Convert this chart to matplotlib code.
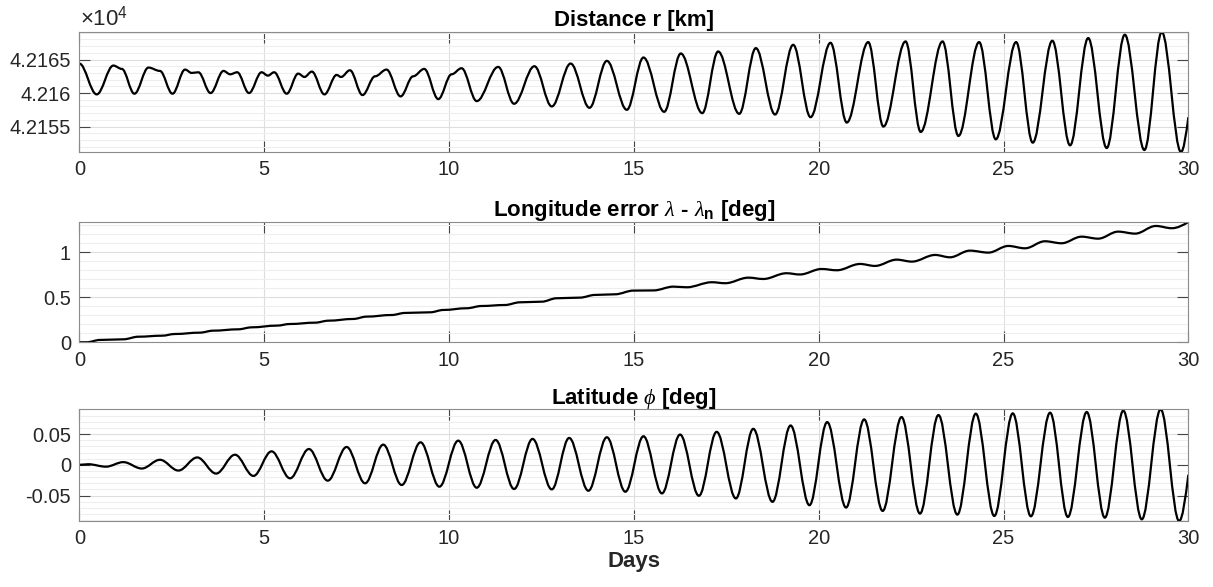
import numpy as np
import matplotlib
matplotlib.use("Agg")
from matplotlib import pyplot as plt
from matplotlib.path import Path
from matplotlib.patches import PathPatch
from matplotlib.ticker import MultipleLocator

plt.rcParams['font.family'] = ['Liberation Sans', 'DejaVu Sans']
plt.rcParams['mathtext.fontset'] = 'custom'
plt.rcParams['mathtext.rm'] = 'Liberation Sans'
plt.rcParams['mathtext.it'] = 'Liberation Serif:italic'
plt.rcParams['mathtext.bf'] = 'Liberation Sans:bold'

# distance r [km], turning points
r_days = [0, 0.47, 0.92, 1.15, 1.49, 1.87, 2.18, 2.52, 2.86, 3.04, 3.22, 3.55,
          3.90, 4.08, 4.27, 4.59, 4.93, 5.10, 5.27, 5.61, 5.92, 6.09, 6.29, 6.63,
          6.96, 7.08, 7.32, 7.66, 8.00, 8.31, 8.69, 9.03, 9.33, 9.71, 10.07, 10.34,
          10.75, 11.33, 11.76, 12.31, 12.78, 13.29, 13.80, 14.27, 14.81, 15.26,
          15.82, 16.27, 16.85, 17.28, 17.85, 18.30, 18.82, 19.31, 19.78, 20.32,
          20.76, 21.34, 21.75, 22.35, 22.76, 23.35, 23.78, 24.34, 24.79, 25.34,
          25.79, 26.32, 26.80, 27.29, 27.79, 28.28, 28.81, 29.28, 29.80, 30.0]
r_km = [42164.4, 42159.8, 42164.1, 42163.6, 42159.9, 42163.8, 42163.3, 42159.9,
        42163.5, 42163.0, 42163.1, 42160.0, 42163.3, 42162.8, 42163.1, 42160.0,
        42163.1, 42162.6, 42163.1, 42159.9, 42162.9, 42162.4, 42163.2, 42159.8,
        42162.7, 42162.4, 42163.4, 42159.7, 42162.5, 42163.5, 42159.5, 42162.5,
        42163.6, 42159.1, 42162.8, 42163.7, 42158.8, 42163.9, 42158.4, 42164.0,
        42158.0, 42164.4, 42157.8, 42164.8, 42157.5, 42165.3, 42157.2, 42165.9,
        42157.0, 42166.2, 42156.9, 42166.7, 42156.8, 42167.2, 42156.4, 42167.5,
        42155.6, 42167.6, 42155.0, 42167.7, 42154.2, 42167.7, 42153.6, 42167.6,
        42153.1, 42167.6, 42152.6, 42167.8, 42152.2, 42168.2, 42151.8, 42168.7,
        42151.5, 42169.1, 42151.2, 42156.4]

# longitude error [deg]
lon_days = [0, 0.20, 0.56, 1.19, 1.60, 2.23, 2.59, 3.26, 3.62, 4.30, 4.66, 5.34,
            5.70, 6.38, 6.74, 7.41, 7.77, 8.45, 8.81, 9.49, 9.85, 10.48, 10.88,
            11.51, 11.92, 12.51, 12.91, 13.54, 13.95, 14.49, 14.99, 15.53, 16.07,
            16.43, 17.11, 17.47, 18.10, 18.50, 19.13, 19.49, 20.08, 20.49, 21.12,
            21.52, 22.11, 22.52, 23.15, 23.55, 24.09, 24.59, 25.13, 25.58, 26.12,
            26.57, 27.11, 27.56, 28.10, 28.56, 29.12, 29.55, 30.0]
lon_err = [0, 0, 0.026, 0.033, 0.062, 0.073, 0.092, 0.107, 0.129, 0.144, 0.166,
           0.185, 0.203, 0.218, 0.240, 0.259, 0.285, 0.303, 0.326, 0.333, 0.359,
           0.378, 0.403, 0.414, 0.444, 0.451, 0.489, 0.496, 0.526, 0.533, 0.574,
           0.576, 0.618, 0.611, 0.667, 0.656, 0.718, 0.703, 0.767, 0.753, 0.814,
           0.800, 0.870, 0.848, 0.918, 0.896, 0.970, 0.944, 1.018, 0.996, 1.070,
           1.044, 1.122, 1.100, 1.173, 1.151, 1.229, 1.207, 1.292, 1.267, 1.336]

# latitude [deg]
lat_days = [0, 0.24, 0.72, 1.19, 1.69, 2.18, 2.68, 3.19, 3.70, 4.21, 4.71, 5.20,
            5.70, 6.21, 6.72, 7.23, 7.73, 8.22, 8.72, 9.23, 9.74, 10.25, 10.75,
            11.26, 11.76, 12.26, 12.78, 13.25, 13.77, 14.27, 14.77, 15.26, 15.76,
            16.25, 16.76, 17.24, 17.76, 18.23, 18.75, 19.24, 19.75, 20.23, 20.74,
            21.23, 21.73, 22.24, 22.74, 23.24, 23.75, 24.25, 24.75, 25.25, 25.74,
            26.26, 26.74, 27.25, 27.74, 28.24, 28.74, 29.25, 29.75, 30.0]
lat = [0, 0.001, -0.003, 0.0044, -0.006, 0.0082, -0.0093, 0.012, -0.0142, 0.0164,
       -0.018, 0.0219, -0.0219, 0.0257, -0.0257, 0.029, -0.030, 0.0328, -0.0328,
       0.0366, -0.0355, 0.0393, -0.0372, 0.0404, -0.0393, 0.0421, -0.0399, 0.0437,
       -0.0421, 0.0448, -0.0437, 0.0464, -0.0464, 0.0492, -0.0503, 0.0536, -0.0546,
       0.0585, -0.0601, 0.0639, -0.0656, 0.0694, -0.0694, 0.0738, -0.0749, 0.0776,
       -0.0792, 0.0809, -0.0809, 0.0831, -0.0831, 0.0836, -0.0836, 0.0847, -0.0847,
       0.0858, -0.0858, 0.088, -0.0885, 0.0902, -0.0913, -0.016]

day_ticks = [0, 5, 10, 15, 20, 25, 30]


def smooth_path(t, y, k=0.36):
    # cubic bezier through the turning points, flat tangent at each point
    verts = [(t[0], y[0])]
    codes = [Path.MOVETO]
    n = len(t)
    for i in range(n - 1):
        dt = t[i + 1] - t[i]
        c1 = (t[i] + k * dt, y[i])
        if i == n - 2:
            c2 = ((c1[0] + t[i + 1]) / 2, (y[i] + y[i + 1]) / 2)
        else:
            c2 = (t[i + 1] - k * dt, y[i + 1])
        verts += [c1, c2, (t[i + 1], y[i + 1])]
        codes += [Path.CURVE4] * 3
    return Path(verts, codes)


def style(ax, yticks, ylabels, minor):
    ax.set_xlim(0, 30)
    ax.set_xticks(day_ticks)
    ax.set_yticks(yticks)
    ax.set_yticklabels(ylabels)
    ax.yaxis.set_minor_locator(MultipleLocator(minor))
    ax.grid(True, which='major', color='#dedede', lw=0.8)
    ax.grid(True, which='minor', axis='y', color='#eeeeee', lw=0.8)
    ax.set_axisbelow(True)
    ax.tick_params(which='major', direction='in', length=8, width=0.8,
                   color='#444444', top=True, right=True, labelsize=14.5,
                   labelcolor='#262626', pad=6)
    ax.tick_params(which='minor', length=0)
    for s in ax.spines.values():
        s.set_color('#8c8c8c')
        s.set_linewidth(0.8)


fig = plt.figure(figsize=(12.13, 5.87), dpi=100)
ax1 = fig.add_axes([0.0654, 0.741, 0.9143, 0.2044])
ax2 = fig.add_axes([0.0654, 0.4169, 0.9143, 0.2049])
ax3 = fig.add_axes([0.0654, 0.1124, 0.9143, 0.1903])

for ax, t, y in [(ax1, r_days, r_km), (ax2, lon_days, lon_err), (ax3, lat_days, lat)]:
    ax.add_patch(PathPatch(smooth_path(t, y), fill=False, edgecolor='black', lw=1.6))

ax1.set_ylim(min(r_km), max(r_km))
style(ax1, [42155, 42160, 42165], ['4.2155', '4.216', '4.2165'], 1)
ax1.text(0.001, 1.01, r'$\times10^{4}$', transform=ax1.transAxes, ha='left', va='bottom',
         fontsize=16, color='#262626')
ax1.set_title('Distance r [km]', fontsize=16, fontweight='bold', pad=4)

ax2.set_ylim(min(lon_err), max(lon_err))
style(ax2, [0, 0.5, 1], ['0', '0.5', '1'], 0.1)
ax2.set_title(r'Longitude error $\lambda$ - $\lambda_{\mathbf{n}}$ [deg]',
              fontsize=16, fontweight='bold', pad=4)

ax3.set_ylim(min(lat), max(lat))
style(ax3, [-0.05, 0, 0.05], ['-0.05', '0', '0.05'], 0.01)
ax3.set_title(r'Latitude $\phi$ [deg]', fontsize=16, fontweight='bold', pad=4)
ax3.set_xlabel('Days', fontsize=16, fontweight='bold', color='#262626', labelpad=2)

fig.savefig('out.png', dpi=100)
